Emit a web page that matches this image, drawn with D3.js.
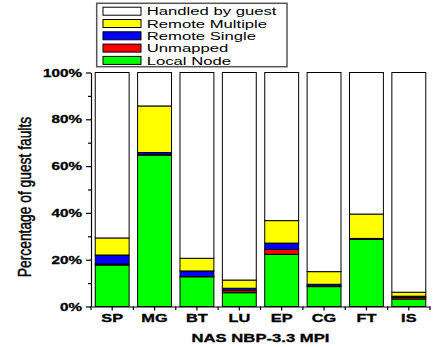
<!DOCTYPE html>
<html>
<head>
<meta charset="utf-8">
<script src="https://cdn.jsdelivr.net/npm/d3@7"></script>
<style>
  html, body { margin: 0; padding: 0; background: #fff; }
  svg { display: block; }
  text { font-family: "Liberation Sans", Arial, sans-serif; fill: #000; }
</style>
</head>
<body>
<svg id="chart" width="435" height="347"></svg>
<script>
// NAS NPB-3.3 MPI benchmarks
const categories = ["SP", "MG", "BT", "LU", "EP", "CG", "FT", "IS"];

// Breakdown of guest page faults, in percent of all faults
const localNode      = [17.7, 64.7, 12.7, 5.9, 22.3, 8.5, 28.7, 3.2];
const unmapped       = [0.5, 0.2, 0.1, 0.9, 2.1, 0.2, 0.1, 0.8];
const remoteSingle   = [3.8, 0.9, 2.4, 1.0, 2.7, 0.8, 0.3, 0.4];
const remoteMultiple = [7.3, 19.9, 5.4, 3.5, 9.6, 5.4, 10.4, 1.7];
const handledByGuest = [70.7, 14.3, 79.4, 88.7, 63.3, 85.1, 60.5, 93.9];

const yTicks = [0, 20, 40, 60, 80, 100];
const yMinorTicks = [10, 30, 50, 70, 90];

const seriesNames = ["Local Node", "Unmapped", "Remote Single", "Remote Multiple", "Handled by guest"];
const seriesValues = [localNode, unmapped, remoteSingle, remoteMultiple, handledByGuest];
const seriesColors = ["#00ff00", "#ff0000", "#0000ff", "#ffff00", "#ffffff"];

const xTitle = "NAS NBP-3.3 MPI";
const yTitle = "Percentage of guest faults";

// wide lettering of the original figure
const SX = 1.45;

const svg = d3.select("#chart");
const plot = { left: 91, right: 430, top: 72.5, bottom: 306.5 };

const x = d3.scaleBand().domain(categories)
  .range([plot.left, plot.right]).paddingInner(0.2).paddingOuter(0.1);
const y = d3.scaleLinear().domain([0, 100]).range([plot.bottom, plot.top]);

const rows = categories.map((c, i) => {
  const r = { cat: c };
  seriesNames.forEach((s, k) => r[s] = seriesValues[k][i]);
  return r;
});
const stacked = d3.stack().keys(seriesNames)(rows);

// bars
svg.append("g").selectAll("g").data(stacked).join("g")
  .attr("fill", (d, k) => seriesColors[k])
  .selectAll("rect").data(d => d).join("rect")
    .attr("x", d => x(d.data.cat))
    .attr("width", x.bandwidth())
    .attr("y", d => y(d[1]))
    .attr("height", d => y(d[0]) - y(d[1]))
    .attr("stroke", "#000")
    .attr("stroke-width", 1);

// y axis
const yAxis = svg.append("g").attr("transform", `translate(${plot.left},0)`)
  .call(d3.axisLeft(y).tickValues(yTicks).tickFormat(d => d + "%").tickSize(5).tickSizeOuter(0));
yAxis.select(".domain").attr("stroke", "#000").attr("stroke-width", 1.2);
yAxis.selectAll(".tick line").attr("stroke", "#000").attr("stroke-width", 1.2);
yAxis.selectAll(".tick text")
  .attr("x", -9 / SX).attr("dy", "0.35em")
  .attr("transform", `scale(${SX},1)`)
  .style("font-size", "10.5px").style("font-weight", "bold")
  .style("stroke", "#000").style("stroke-width", 0.3);

svg.append("g").attr("transform", `translate(${plot.left},0)`)
  .call(d3.axisLeft(y).tickValues(yMinorTicks).tickFormat("").tickSize(3).tickSizeOuter(0))
  .call(g => g.select(".domain").remove())
  .selectAll(".tick line").attr("stroke", "#000").attr("stroke-width", 1.2);

// x axis: labelled ticks at bar centres, minor ticks at band boundaries
const xAxis = svg.append("g").attr("transform", `translate(0,${plot.bottom})`)
  .call(d3.axisBottom(x).tickSize(4).tickSizeOuter(0));
xAxis.select(".domain").attr("stroke", "#000").attr("stroke-width", 1.2);
xAxis.selectAll(".tick line").attr("stroke", "#000").attr("stroke-width", 1.2);
xAxis.selectAll(".tick text")
  .attr("y", 15.8).attr("dy", 0)
  .attr("transform", `scale(${SX},1)`)
  .style("font-size", "11.3px").style("font-weight", "bold")
  .style("stroke", "#000").style("stroke-width", 0.3);

const bounds = categories.map(c => x(c) - x.step() * x.paddingInner() / 2)
  .concat([plot.right]);
bounds[0] = plot.left;
svg.append("g").selectAll("line").data(bounds).join("line")
  .attr("x1", d => d).attr("x2", d => d)
  .attr("y1", plot.bottom).attr("y2", plot.bottom + 3.5)
  .attr("stroke", "#000").attr("stroke-width", 1.2);

// axis titles
svg.append("text")
  .attr("transform", `translate(${(plot.left + plot.right) / 2},342) scale(${SX},1)`)
  .attr("text-anchor", "middle")
  .style("font-size", "11.5px").style("font-weight", "bold")
  .style("stroke", "#000").style("stroke-width", 0.3)
  .text(xTitle);

svg.append("text")
  .attr("transform", `translate(31,197) rotate(-90) scale(1,1.3)`)
  .attr("text-anchor", "middle")
  .style("font-size", "13.8px")
  .style("stroke", "#000").style("stroke-width", 0.35)
  .text(yTitle);

// legend
const legend = svg.append("g");
legend.append("rect")
  .attr("x", 96.7).attr("y", 3.3).attr("width", 190.3).attr("height", 63.4)
  .attr("fill", "#fff").attr("stroke", "#555").attr("stroke-width", 1.5);

const legendOrder = [4, 3, 2, 1, 0];
const item = legend.selectAll("g.item").data(legendOrder).join("g")
  .attr("class", "item")
  .attr("transform", (k, i) => `translate(0,${11.2 + i * 12.3})`);
item.append("rect")
  .attr("x", 103).attr("y", -4).attr("width", 38).attr("height", 8)
  .attr("fill", k => seriesColors[k]).attr("stroke", "#000").attr("stroke-width", 1);
item.append("text")
  .attr("transform", `translate(146.7,4.2) scale(${SX},1)`)
  .style("font-size", "11.5px")
  .text(k => seriesNames[k]);
</script>
</body>
</html>
